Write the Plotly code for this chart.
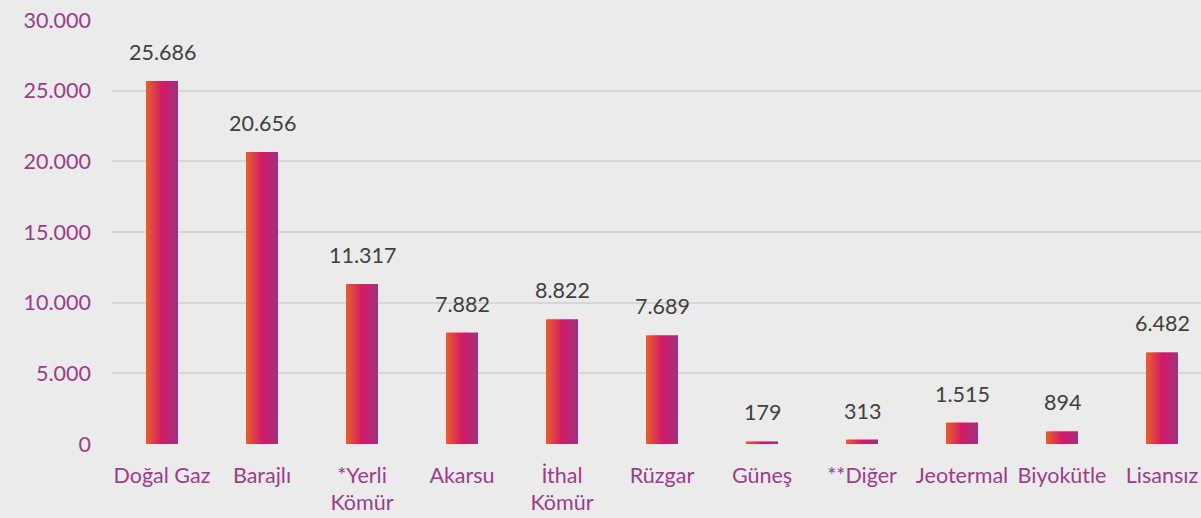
import plotly.graph_objects as go

categories = ["Doğal Gaz", "Barajlı", "*Yerli<br>Kömür", "Akarsu", "İthal<br>Kömür", "Rüzgar",
              "Güneş", "**Diğer", "Jeotermal", "Biyokütle", "Lisansız"]
values = [25686, 20656, 11317, 7882, 8822, 7689, 179, 313, 1515, 894, 6482]
value_labels = ["25.686", "20.656", "11.317", "7.882", "8.822", "7.689", "179", "313", "1.515", "894", "6.482"]
y_ticks = [0, 5000, 10000, 15000, 20000, 25000, 30000]
y_tick_labels = ["0", "5.000", "10.000", "15.000", "20.000", "25.000", "30.000"]

stops = [(0.0, (234, 96, 40)), (0.5, (210, 26, 104)), (1.0, (160, 50, 128))]

def color_at(t):
    for (t0, c0), (t1, c1) in zip(stops[:-1], stops[1:]):
        if t <= t1:
            f = (t - t0) / (t1 - t0)
            return "rgb(%d,%d,%d)" % tuple(round(a + (b - a) * f) for a, b in zip(c0, c1))
    return "rgb(%d,%d,%d)" % stops[-1][1]

FONT = "Lato, Open Sans, sans-serif"

fig = go.Figure()
n = 16
bw = 0.32
w = bw / n
for i in range(n):
    fig.add_trace(go.Bar(
        x=categories, y=values,
        width=w * 1.3 if i < n - 1 else w, offset=-bw / 2 + i * w,
        marker=dict(color=color_at((i + 0.5) / n), line=dict(width=0)),
        hoverinfo="skip", showlegend=False,
    ))

for c, v, t in zip(categories, values, value_labels):
    fig.add_annotation(x=c, y=v, text=t, showarrow=False, yanchor="bottom", yshift=14,
                       font=dict(family=FONT, size=21.5, color="#404040"))

fig.update_layout(
    barmode="overlay",
    width=1201, height=518,
    margin=dict(l=112, r=0, t=20, b=74),
    paper_bgcolor="#EBEBEB", plot_bgcolor="#EBEBEB",
    font=dict(family=FONT, size=21.5, color="#9B3D8E"),
    xaxis=dict(type="category", range=[-0.5, 10.39], showgrid=False, showline=False,
               ticks="", ticklabelstandoff=16, tickfont=dict(size=21.5, color="#9B3D8E")),
    yaxis=dict(range=[0, 30000], tickvals=y_ticks, ticktext=y_tick_labels,
               showgrid=True, gridcolor="#D6D6D6", gridwidth=2, zeroline=False,
               showline=False, ticks="", ticklabelstandoff=20,
               tickfont=dict(size=21.5, color="#9B3D8E")),
)

fig.write_html("out.html", config={"displayModeBar": False},
               post_script="document.body.style.margin='0';document.body.style.overflow='hidden';")
